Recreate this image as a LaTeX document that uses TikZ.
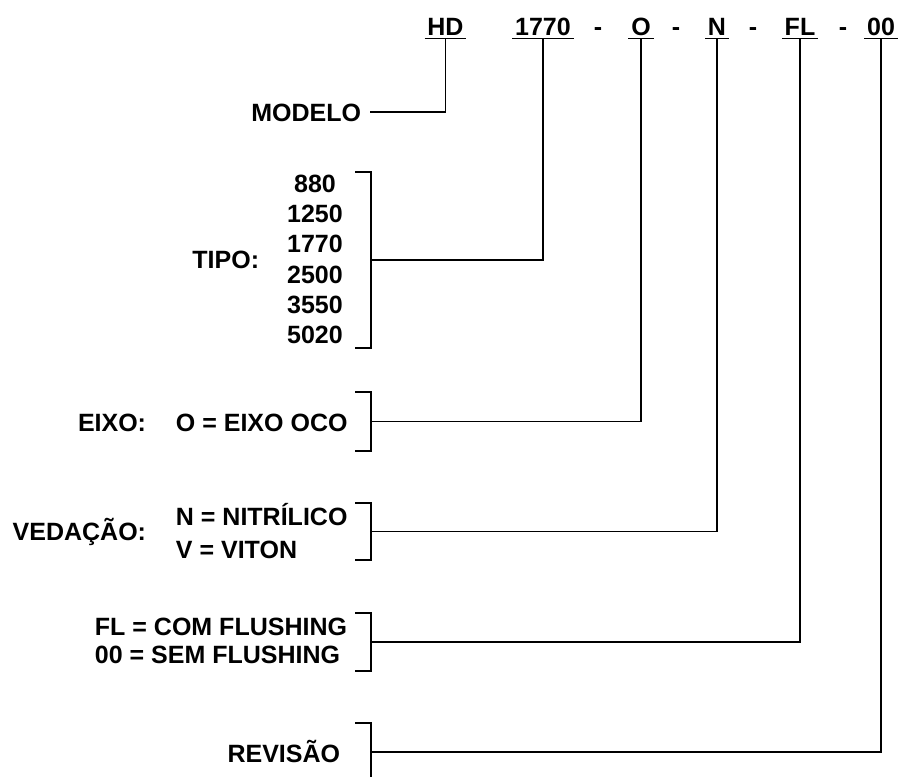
\documentclass[tikz,border=0pt]{standalone}
\usepackage{fontspec}
\setmainfont{Liberation Sans}

\begin{document}
\begin{tikzpicture}[x=0.75pt,y=-0.75pt,line width=1.4pt,
  txt/.style={inner sep=0pt,font=\fontsize{18.75}{22}\selectfont\bfseries},
  campo/.style={txt,anchor=base}]
  \useasboundingbox (0,0) rectangle (901,776);
  % codigo do produto
  \node[campo] (hd) at (445.5,35){HD};
  \node[campo] (tipo) at (543,35){1770};
  \node[campo] (d1) at (598,35){-};
  \node[campo] (eixo) at (641,35){O};
  \node[campo] (d2) at (676,35){-};
  \node[campo] (ved) at (717,35){N};
  \node[campo] (d3) at (753,35){-};
  \node[campo] (fl) at (800,35){FL};
  \node[campo] (d4) at (843,35){-};
  \node[campo] (rev) at (881,35){00};
  \foreach \n in {hd,tipo,eixo,ved,fl,rev}{
    \draw ([xshift=-1.5pt,yshift=-2.6pt]\n.base west) -- ([xshift=1.5pt,yshift=-2.6pt]\n.base east);
    \coordinate (u\n) at ([yshift=-2.6pt]\n.base);
  }
  % modelo
  \node[txt,anchor=base east] (lmodelo) at (362,121){MODELO};
  \draw ([xshift=6pt]lmodelo.east) -| (uhd);
  % tipo
  \node[txt,anchor=base east] (ltipo) at (260,268){TIPO:};
  \foreach \v/\y in {880/192,1250/222,1770/252,2500/283,3550/313,5020/343}
    \node[campo] (v\v) at (315,\y){\v};
  % eixo
  \node[txt,anchor=base east] (leixo) at (147,431){EIXO:};
  \node[txt,anchor=base west] (oeixo) at (175,431){O = EIXO OCO};
  % vedacao
  \node[txt,anchor=base east] (lved) at (147,540){VEDAÇÃO:};
  \node[txt,anchor=base west] (oved1) at (175,525){N = NITRÍLICO};
  \node[txt,anchor=base west] (oved2) at (175,558){V = VITON};
  % flushing
  \node[txt,anchor=base west] (ofl1) at (94,635){FL = COM FLUSHING};
  \node[txt,anchor=base west] (ofl2) at (94,663){00 = SEM FLUSHING};
  % revisao
  \node[txt,anchor=base east] (lrev) at (341,762){REVISÃO};
  % chaves
  \foreach \nome/\ya/\yb in {ctipo/172/348,ceixo/392/451,cved/503/560,cfl/613/671,crev/723/781}{
    \draw (355,\ya) -- (371,\ya) -- (371,\yb) -- (355,\yb);
    \coordinate (\nome) at (371,{(\ya+\yb)/2});
  }
  \draw (ctipo) -| (utipo);
  \draw (ceixo) -| (ueixo);
  \draw (cved) -| (uved);
  \draw (cfl) -| (ufl);
  \draw (crev) -| (urev);
\end{tikzpicture}
\end{document}
